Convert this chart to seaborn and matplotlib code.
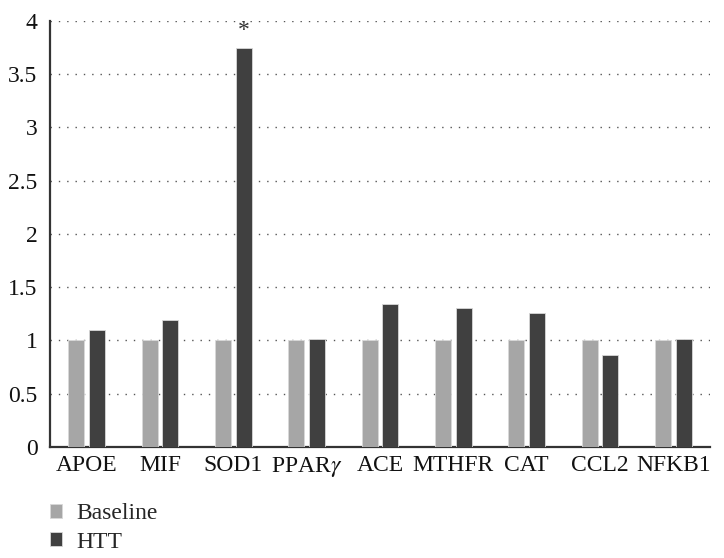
import matplotlib
matplotlib.use("Agg")
import matplotlib.pyplot as plt
import seaborn as sns
import pandas as pd

## data
genes = ['APOE', 'MIF', 'SOD1', 'PPAR$\\gamma$', 'ACE', 'MTHFR', 'CAT', 'CCL2', 'NFKB1']
baseline = [1, 1, 1, 1, 1, 1, 1, 1, 1]
htt = [1.10, 1.19, 3.74, 1.01, 1.34, 1.30, 1.26, 0.86, 1.01]
groups = ['Baseline', 'HTT']
colors = ['#a6a6a6', '#404040']

df = pd.DataFrame({
    'gene': genes * 2,
    'value': baseline + htt,
    'group': ['Baseline'] * len(genes) + ['HTT'] * len(genes),
})

sns.set_style('white')
plt.rcParams['font.family'] = ['Liberation Serif', 'DejaVu Serif']
plt.rcParams['mathtext.fontset'] = 'stix'

fig = plt.figure(figsize=(7.24, 5.58), dpi=100)
ax = fig.add_axes([50 / 724, 1 - 447 / 558, 660 / 724, (447 - 20.7) / 558])

sns.barplot(data=df, x='gene', y='value', hue='group', hue_order=groups,
            palette=colors, width=0.57, gap=0.23, edgecolor='#d8d8d8',
            linewidth=0.6, ax=ax, legend=True, zorder=3)

ax.set_ylim(0, 4)
ax.set_xlim(-0.5, len(genes) - 0.5)
ax.set_yticks([0, 0.5, 1, 1.5, 2, 2.5, 3, 3.5, 4])
ax.set_yticklabels(['0', '0.5', '1', '1.5', '2', '2.5', '3', '3.5', '4'])
ax.yaxis.grid(True, linestyle=(0, (1, 5)), color='#555555', linewidth=1.0, zorder=0)
ax.xaxis.grid(False)
ax.set_xlabel('')
ax.set_ylabel('')
ax.tick_params(axis='both', length=0, labelsize=17, colors='#111111')
ax.tick_params(axis='y', pad=9)
ax.tick_params(axis='x', pad=6)

for side in ['top', 'right']:
    ax.spines[side].set_visible(False)
for side in ['left', 'bottom']:
    ax.spines[side].set_color('#333333')
    ax.spines[side].set_linewidth(1.6)

## significance mark over SOD1
ax.text(2 + 0.143, htt[2] + 0.07, '*', ha='center', va='bottom', fontsize=17, color='#333333')

handles, labels = ax.get_legend_handles_labels()
ax.get_legend().remove()
fig.legend(handles, labels, loc='upper left', bbox_to_anchor=(41 / 724, 1 - 494 / 558),
           borderaxespad=0, frameon=False, fontsize=17, handlelength=0.5,
           handleheight=0.5, handletextpad=0.6, labelspacing=0.3)

fig.savefig('out.png', dpi=100)
